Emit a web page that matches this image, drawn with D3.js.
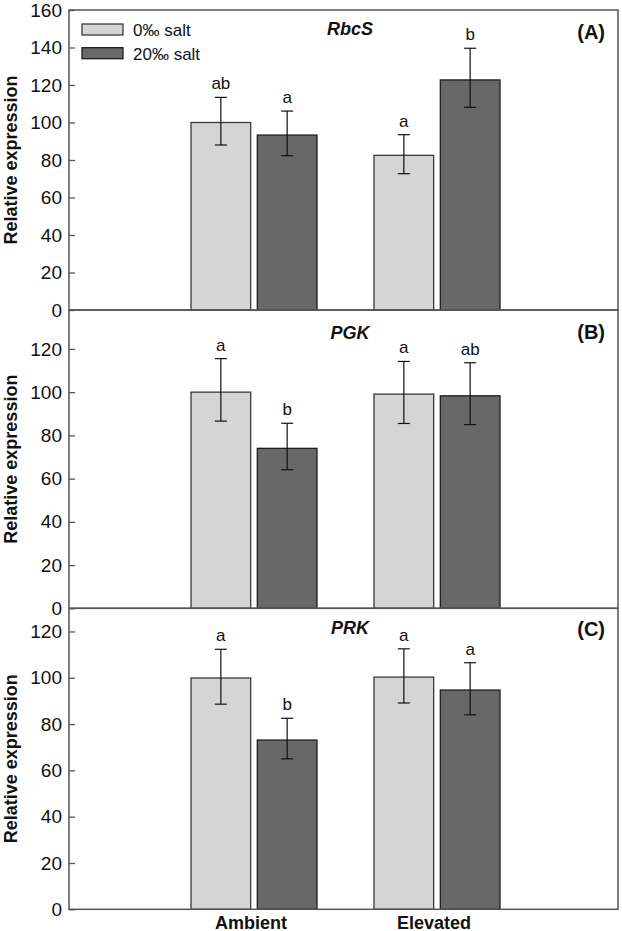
<!DOCTYPE html>
<html><head><meta charset="utf-8">
<script src="https://cdn.jsdelivr.net/npm/d3@7"></script>
<style>html,body{margin:0;padding:0;background:#fff;}svg{display:block;font-family:Arial,"Liberation Sans",sans-serif;}</style>
</head><body>
<svg id="chart" width="622" height="931"></svg>
<script>
// ---- data ----
const categories = ["Ambient", "Elevated"];
const seriesNames = ["0‰ salt", "20‰ salt"];
const genes = ["RbcS", "PGK", "PRK"];
const panelTags = ["(A)", "(B)", "(C)"];

// order per gene: [Ambient 0‰, Ambient 20‰, Elevated 0‰, Elevated 20‰]
const meanRbcS   = [100.0, 93.3, 82.5, 122.7];
const errHiRbcS  = [113.4, 106.1, 93.5, 139.6];
const errLoRbcS  = [88.0, 82.3, 72.7, 108.1];
const lettersRbcS = ["ab", "a", "a", "b"];

const meanPGK    = [100.0, 74.0, 99.1, 98.3];
const errHiPGK   = [115.5, 85.6, 114.2, 113.6];
const errLoPGK   = [86.6, 64.1, 85.5, 85.0];
const lettersPGK = ["a", "b", "a", "ab"];

const meanPRK    = [99.9, 73.1, 100.3, 94.7];
const errHiPRK   = [112.3, 82.5, 112.5, 106.5];
const errLoPRK   = [88.6, 65.0, 89.1, 84.0];
const lettersPRK = ["a", "b", "a", "a"];

const yMaxA = 160, yMaxB = 138, yMaxC = 130;
const yTicksA = [0, 20, 40, 60, 80, 100, 120, 140, 160];
const yTicksB = [0, 20, 40, 60, 80, 100, 120];
const yTicksC = [0, 20, 40, 60, 80, 100, 120];

// ---- layout ----
const svg = d3.select("#chart");
const left = 69, right = 618;
const fills = ["#d5d5d5", "#686868"];
const strokes = ["#3a3a3a", "#1e1e1e"];
const axisCol = "#555";

const panels = [
  {gene: genes[0], tag: panelTags[0], mean: meanRbcS, hi: errHiRbcS, lo: errLoRbcS, letters: lettersRbcS, yMax: yMaxA, ticks: yTicksA, top: 10, bottom: 310, geneY: 35, tagY: 39},
  {gene: genes[1], tag: panelTags[1], mean: meanPGK, hi: errHiPGK, lo: errLoPGK, letters: lettersPGK, yMax: yMaxB, ticks: yTicksB, top: 310, bottom: 608.3, geneY: 339, tagY: 339},
  {gene: genes[2], tag: panelTags[2], mean: meanPRK, hi: errHiPRK, lo: errLoPRK, letters: lettersPRK, yMax: yMaxC, ticks: yTicksC, top: 608.3, bottom: 909.3, geneY: 634, tagY: 636}
];

const x = d3.scaleLinear().domain([0, categories.length + 1]).range([left, right]);
const sub = d3.scaleBand().domain(seriesNames).range([-61, 65]).paddingInner(0.1);

panels.forEach((p, pi) => {
  const y = d3.scaleLinear().domain([0, p.yMax]).range([p.bottom, p.top]);
  const g = svg.append("g");

  // y axis with inward ticks
  const ax = g.append("g").attr("transform", `translate(${left},0)`)
    .call(d3.axisLeft(y).tickValues(p.ticks).tickSize(-6).tickPadding(8).tickFormat(d3.format("d")));
  ax.attr("font-size", null).attr("font-family", null);
  ax.select(".domain").remove();
  ax.selectAll(".tick line").attr("stroke", axisCol).attr("stroke-width", 1.3);
  ax.selectAll(".tick text").attr("x", -7).style("font-size", "19px").attr("fill", "#111")
    .style("font-family", "Arial, 'Liberation Sans', sans-serif");

  // bars
  const rows = [];
  categories.forEach((c, ci) => seriesNames.forEach((s, si) => {
    const k = ci * 2 + si;
    rows.push({c, ci, s, si, m: p.mean[k], hi: p.hi[k], lo: p.lo[k], L: p.letters[k]});
  }));
  rows.forEach(r => {
    const x0 = x(r.ci + 1) + sub(r.s);
    const w = sub.bandwidth();
    const cx = x0 + w / 2;
    g.append("rect").attr("x", x0).attr("y", y(r.m)).attr("width", w).attr("height", y(0) - y(r.m))
      .attr("fill", fills[r.si]).attr("stroke", strokes[r.si]).attr("stroke-width", 1.3);
    // error bar
    g.append("line").attr("x1", cx).attr("x2", cx).attr("y1", y(r.hi)).attr("y2", y(r.lo)).attr("stroke", "#111").attr("stroke-width", 1.2);
    [r.hi, r.lo].forEach(v => g.append("line").attr("x1", cx - 6).attr("x2", cx + 6).attr("y1", y(v)).attr("y2", y(v)).attr("stroke", "#111").attr("stroke-width", 1.2));
    g.append("text").attr("x", cx).attr("y", y(r.hi) - 8).attr("text-anchor", "middle")
      .style("font-size", "17px").attr("fill", "#111").text(r.L);
  });

  // frame
  g.append("rect").attr("x", left).attr("y", p.top).attr("width", right - left).attr("height", p.bottom - p.top)
    .attr("fill", "none").attr("stroke", axisCol).attr("stroke-width", 1.5);

  // gene name and tag
  g.append("text").attr("x", 350).attr("y", p.geneY).attr("text-anchor", "middle")
    .style("font-size", "18px").attr("font-weight", "bold").attr("font-style", "italic").attr("fill", "#111").text(p.gene);
  g.append("text").attr("x", 605).attr("y", p.tagY).attr("text-anchor", "end")
    .style("font-size", "20px").attr("font-weight", "bold").attr("fill", "#111").text(p.tag);

  // y title
  g.append("text").attr("transform", `translate(17,${(p.top + p.bottom) / 2}) rotate(-90)`)
    .attr("text-anchor", "middle").style("font-size", "18px").attr("font-weight", "bold").attr("fill", "#111")
    .text("Relative expression");
});

// legend
const lg = svg.append("g");
seriesNames.forEach((s, i) => {
  lg.append("rect").attr("x", 82).attr("y", 24 + i * 23.7).attr("width", 41).attr("height", 11)
    .attr("fill", fills[i]).attr("stroke", strokes[i]).attr("stroke-width", 1.3);
  lg.append("text").attr("x", 133).attr("y", 36 + i * 23.5).style("font-size", "17px").attr("fill", "#111").text(s);
});

// x category labels
categories.forEach((c, ci) => {
  svg.append("text").attr("x", x(ci + 1) - 1).attr("y", 929).attr("text-anchor", "middle")
    .style("font-size", "18px").attr("font-weight", "bold").attr("fill", "#111").text(c);
});
</script>
</body></html>
